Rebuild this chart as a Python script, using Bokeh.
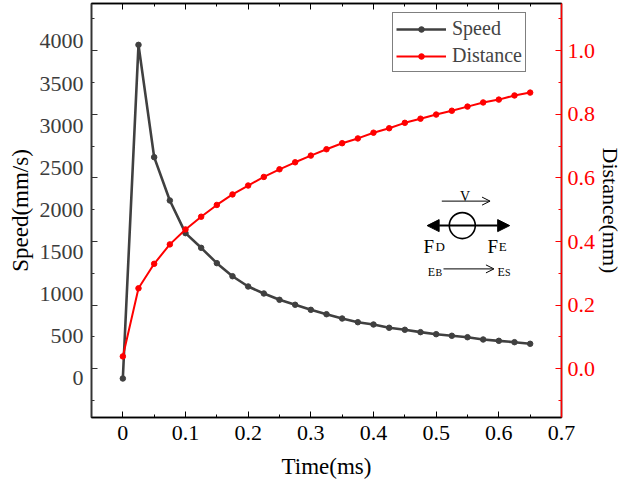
import math
from bokeh.plotting import figure
from bokeh.models import (Range1d, LinearAxis, SingleIntervalTicker, FixedTicker,
                          PrintfTickFormatter, Legend, LegendItem, Label, Arrow,
                          NormalHead, OpenHead, ColumnDataSource)
from bokeh.embed import file_html
from bokeh.resources import INLINE

# ---------------- data ----------------
time_ms = [0.0, 0.025, 0.05, 0.075, 0.1, 0.125, 0.15, 0.175, 0.2, 0.225, 0.25,
           0.275, 0.3, 0.325, 0.35, 0.375, 0.4, 0.425, 0.45, 0.475, 0.5, 0.525,
           0.55, 0.575, 0.6, 0.625, 0.65]
speed = [0, 3960, 2627, 2113, 1725, 1551, 1369, 1214, 1092, 1009, 934, 875, 815,
         763, 712, 668, 641, 602, 578, 550, 526, 507, 490, 463, 447, 431, 412]
distance = [0.039, 0.253, 0.330, 0.391, 0.438, 0.478, 0.515, 0.548, 0.576, 0.603,
            0.627, 0.649, 0.670, 0.690, 0.709, 0.724, 0.742, 0.756, 0.773, 0.786,
            0.799, 0.811, 0.824, 0.837, 0.846, 0.859, 0.868]
speed_tick_labels = [0, 500, 1000, 1500, 2000, 2500, 3000, 3500, 4000]

FONT = "Liberation Serif"
SPEED_C = "#404040"
DIST_C = "#ff0000"

src = ColumnDataSource(dict(t=time_ms, v=speed, d=distance))

p = figure(width=626, height=491, output_backend="svg", toolbar_location=None,
           x_range=Range1d(-0.05, 0.70001), y_range=Range1d(-463, 4451),
           y_axis_location=None, min_border_left=91, min_border_right=63,
           min_border_top=3, min_border_bottom=74)
p.extra_y_ranges = {"dist": Range1d(-0.153, 1.148)}
p.grid.visible = False
p.outline_line_color = "black"
p.outline_line_width = 1.5
p.background_fill_color = "white"
p.border_fill_color = "white"

# ---------- bottom axis ----------
xa = p.xaxis[0]
xa.ticker = SingleIntervalTicker(interval=0.1, num_minor_ticks=2)
xa.formatter = PrintfTickFormatter(format="%.1f")
xa.major_label_overrides = {0: "0"}
xa.major_tick_in = 6
xa.major_tick_out = 0
xa.minor_tick_in = 3
xa.minor_tick_out = 0
xa.axis_line_color = "black"
xa.axis_line_width = 1.5
xa.major_tick_line_color = "black"
xa.minor_tick_line_color = "black"
xa.major_label_text_font = FONT
xa.major_label_text_font_size = "22px"
xa.major_label_text_color = "black"
xa.major_label_standoff = 8
xa.axis_label = "Time(ms)"
xa.axis_label_text_font = FONT
xa.axis_label_text_font_size = "23px"
xa.axis_label_text_font_style = "normal"
xa.axis_label_text_color = "black"
xa.axis_label_standoff = 11

# ---------- top axis (ticks only) ----------
ta = LinearAxis(ticker=SingleIntervalTicker(interval=0.1, num_minor_ticks=2),
                major_label_text_font_size="1px", major_label_text_color=None,
                major_label_standoff=0,
                major_tick_in=6, major_tick_out=0, minor_tick_in=3, minor_tick_out=0,
                axis_line_color="black", axis_line_width=1.5)
p.add_layout(ta, "above")

# ---------- left: tick marks (inner) ----------
lt = LinearAxis(y_range_name="dist",
                ticker=SingleIntervalTicker(interval=0.2, num_minor_ticks=2),
                major_label_text_font_size="1px", major_label_text_color=None,
                major_label_standoff=0,
                major_tick_in=6, major_tick_out=0, minor_tick_in=3, minor_tick_out=0,
                axis_line_color="#333333", axis_line_width=1.5,
                major_tick_line_color="#333333", minor_tick_line_color="#333333")
p.add_layout(lt, "left")

# ---------- left: speed labels (outer) ----------
ll = LinearAxis(ticker=FixedTicker(ticks=speed_tick_labels, minor_ticks=[]),
                axis_line_color=None, major_tick_line_color=None,
                minor_tick_line_color=None, major_tick_in=0, major_tick_out=0,
                major_label_standoff=8, major_label_text_font=FONT,
                major_label_text_font_size="22px", major_label_text_color="#3c3c3c",
                axis_label="Speed(mm/s)", axis_label_text_font=FONT,
                axis_label_text_font_size="23px", axis_label_text_font_style="normal",
                axis_label_text_color="black", axis_label_standoff=4)
p.add_layout(ll, "left")

# ---------- right axis ----------
ra = LinearAxis(y_range_name="dist",
                ticker=SingleIntervalTicker(interval=0.2, num_minor_ticks=2),
                formatter=PrintfTickFormatter(format="%.1f"),
                major_tick_in=6, major_tick_out=0, minor_tick_in=3, minor_tick_out=0,
                axis_line_color=DIST_C, axis_line_width=1.5,
                major_tick_line_color=DIST_C, minor_tick_line_color=DIST_C,
                major_label_standoff=6, major_label_text_font=FONT,
                major_label_text_font_size="22px", major_label_text_color=DIST_C,
                axis_label="Distance(mm)", axis_label_text_font=FONT,
                axis_label_text_font_size="22px", axis_label_text_font_style="normal",
                axis_label_text_color="black", axis_label_standoff=0)
try:
    ra.axis_label_orientation = "vertical"   # read bottom-to-top like the reference
except Exception:
    pass
p.add_layout(ra, "right")

# ---------- series ----------
sl = p.line("t", "v", source=src, line_color=SPEED_C, line_width=2.6)
sm = p.scatter("t", "v", source=src, size=5.5, fill_color=SPEED_C, line_color=SPEED_C)
dl = p.line("t", "d", source=src, line_color=DIST_C, line_width=2, y_range_name="dist")
dm = p.scatter("t", "d", source=src, size=5.5, fill_color=DIST_C, line_color=DIST_C,
               y_range_name="dist")

legend = Legend(items=[LegendItem(label="Speed", renderers=[sl, sm]),
                       LegendItem(label="Distance", renderers=[dl, dm])],
                location=(301, 345), glyph_width=50, glyph_height=14, label_height=25,
                label_text_font=FONT, label_text_font_size="20px",
                label_standoff=6, spacing=2, padding=3, margin=0,
                border_line_color="black", border_line_width=1,
                background_fill_color="white", background_fill_alpha=1)
p.add_layout(legend, "center")

# ---------- schematic (force diagram) ----------
schem = dict(y_range_name="dist")
p.add_layout(Arrow(end=OpenHead(size=8, line_width=1, line_color="black"),
                   x_start=0.509, y_start=0.527, x_end=0.586, y_end=0.527,
                   line_width=1, line_color="black", **schem))
p.add_layout(Arrow(start=NormalHead(size=12, fill_color="black", line_color="black"),
                   end=NormalHead(size=12, fill_color="black", line_color="black"),
                   x_start=0.4856, y_start=0.450, x_end=0.6173, y_end=0.450,
                   line_width=2, line_color="black", **schem))
p.add_layout(Arrow(end=OpenHead(size=8, line_width=1, line_color="black"),
                   x_start=0.5117, y_start=0.314, x_end=0.5922, y_end=0.314,
                   line_width=1, line_color="black", **schem))
p.scatter(x=[0.5417], y=[0.450], size=26, fill_color=None, line_color="black",
          line_width=1.6, y_range_name="dist")

def lab(x, y, t, size, align="left"):
    p.add_layout(Label(x=x, y=y, text=t, text_font=FONT, text_font_size=size,
                       text_color="black", text_align=align,
                       text_baseline="alphabetic", y_range_name="dist"))

lab(0.546, 0.541, "V", "14px", "center")
lab(0.4798, 0.3842, "F", "19px")
lab(0.4990, 0.3842, "D", "13px")
lab(0.5819, 0.3842, "F", "19px")
lab(0.6000, 0.3842, "E", "13px")
lab(0.4867, 0.3035, "E", "12px")
lab(0.4990, 0.3035, "B", "10px")
lab(0.5978, 0.3035, "E", "12px")
lab(0.6100, 0.3035, "S", "10px")

open("out.html", "w").write(file_html(p, INLINE))
